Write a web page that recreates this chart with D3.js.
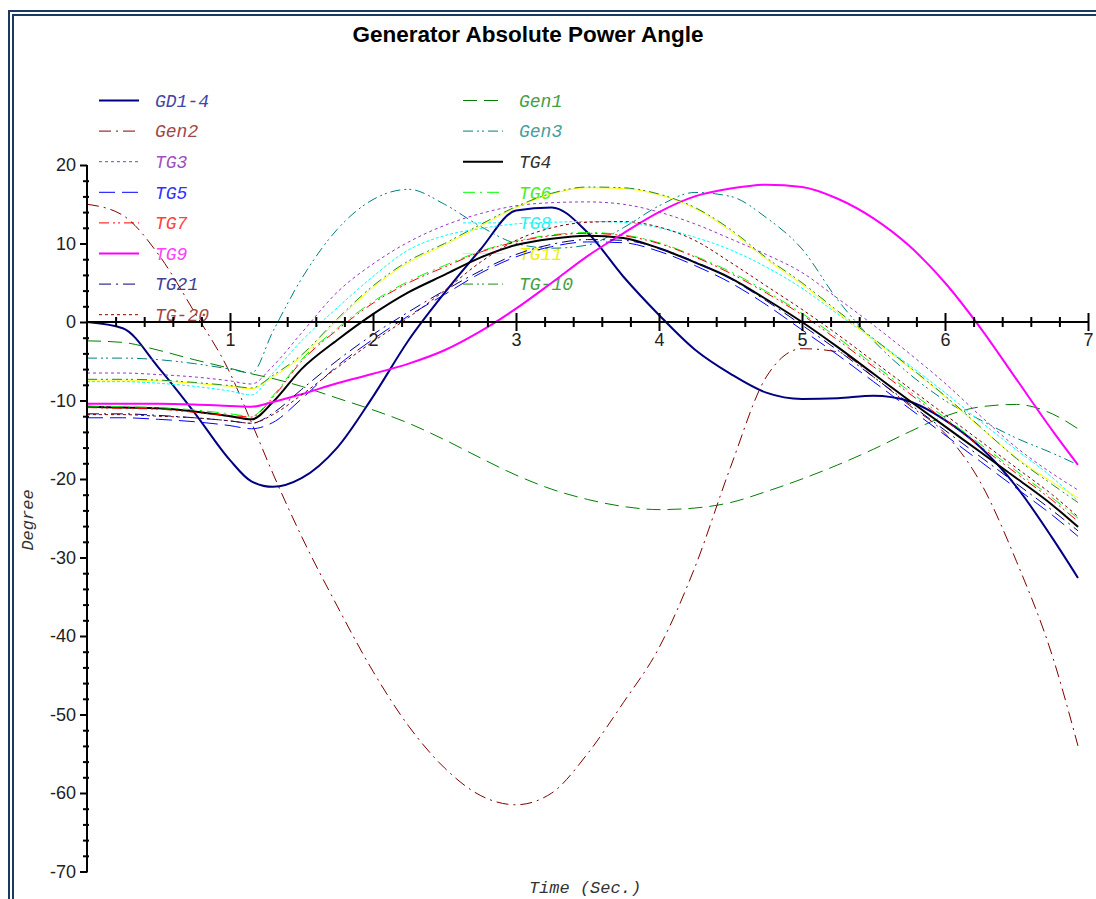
<!DOCTYPE html>
<html>
<head>
<meta charset="utf-8">
<script src="https://cdn.jsdelivr.net/npm/d3@7"></script>
<style>
  body { margin: 0; background: #fff; }
  svg { display: block; }
</style>
</head>
<body>
<svg id="chart" width="1096" height="899"></svg>
<script>
// sample times (sec.)
var times = [0, 0.25, 0.5, 0.75, 1.0, 1.15, 1.3, 1.5, 1.75, 2.0, 2.25, 2.5, 2.75, 3.0, 3.25, 3.5, 3.75, 4.0, 4.25, 4.5, 4.75, 5.0, 5.25, 5.5, 5.75, 6.0, 6.25, 6.5, 6.75, 6.93];

// angles (degree)
var gd14  = [0, -0.8, -5.8, -11.5, -17.6, -20.3, -21.0, -19.9, -16.0, -9.5, -2.3, 3.7, 9.2, 14.2, 14.6, 11.4, 5.8, 0.9, -3.5, -6.6, -9.0, -9.8, -9.7, -9.4, -10.1, -12.5, -16.0, -21.0, -27.5, -32.6];
var gen1  = [-2.4, -2.6, -3.6, -4.8, -5.9, -6.6, -7.2, -8.2, -9.7, -11.2, -12.9, -15.0, -17.3, -19.5, -21.3, -22.6, -23.5, -23.9, -23.7, -23.0, -21.6, -20.0, -18.2, -16.2, -14.0, -12.0, -10.8, -10.5, -11.7, -13.6];
var gen2  = [15.0, 13.6, 8.6, 1.3, -6.5, -12.8, -19.3, -27.3, -36.2, -44.5, -51.5, -56.8, -60.3, -61.5, -60.0, -55.0, -48.5, -41.5, -31.3, -18.5, -7.0, -3.4, -3.8, -7.0, -10.6, -14.2, -20.5, -30.5, -42.5, -54.0];
var gen3  = [-4.6, -4.6, -4.8, -5.3, -6.0, -6.5, -1.2, 5.5, 11.8, 15.6, 16.9, 15.0, 12.2, 10.0, 9.4, 9.8, 12.0, 14.8, 16.5, 16.0, 13.3, 9.3, 2.8, -2.4, -6.6, -10.0, -12.5, -14.8, -16.7, -18.2];
var tg3   = [-6.5, -6.5, -6.7, -7.0, -7.5, -7.9, -5.6, -1.4, 3.8, 7.4, 10.2, 12.3, 13.8, 14.8, 15.2, 15.3, 15.0, 14.0, 12.5, 10.6, 8.6, 6.3, 3.0, -0.4, -4.0, -7.8, -12.0, -16.0, -19.3, -21.4];
var tg4   = [-10.8, -10.9, -11.0, -11.4, -12.0, -12.4, -10.2, -6.0, -2.3, 1.0, 3.8, 6.0, 8.2, 9.8, 10.6, 11.0, 10.7, 9.4, 7.6, 5.6, 2.9, 0.0, -3.2, -6.6, -10.0, -13.3, -16.6, -19.9, -23.3, -26.1];
var tg5   = [-12.2, -12.2, -12.4, -12.7, -13.2, -13.6, -12.8, -9.8, -5.6, -2.2, 0.8, 3.5, 6.2, 8.3, 9.6, 10.2, 10.1, 9.0, 7.2, 5.0, 2.2, -1.0, -4.2, -7.6, -11.0, -14.4, -17.8, -21.2, -24.6, -27.3];
var tg6   = [-10.7, -10.8, -10.9, -11.2, -11.7, -12.0, -9.4, -4.8, -0.8, 2.6, 5.2, 7.2, 9.0, 10.3, 11.1, 11.4, 11.1, 10.1, 8.4, 6.4, 3.9, 1.1, -2.0, -5.4, -8.8, -12.2, -15.6, -19.0, -22.4, -25.0];
var tg7   = [-10.9, -11.0, -11.1, -11.5, -11.9, -12.1, -9.6, -5.0, -1.0, 2.4, 5.0, 7.0, 8.9, 10.2, 11.0, 11.3, 11.0, 10.0, 8.3, 6.2, 3.7, 0.9, -2.3, -5.7, -9.1, -12.5, -15.9, -19.3, -22.7, -25.4];
var tg8   = [-7.6, -7.6, -7.8, -8.2, -8.8, -9.3, -6.5, -2.4, 1.8, 5.8, 9.2, 11.0, 11.9, 12.5, 12.7, 12.8, 12.7, 12.0, 10.8, 9.2, 7.0, 4.3, 1.0, -2.2, -5.5, -9.0, -12.7, -16.3, -19.8, -22.8];
var tg9   = [-10.4, -10.4, -10.4, -10.5, -10.7, -10.8, -10.2, -9.2, -7.8, -6.6, -5.3, -3.6, -1.2, 1.7, 5.0, 8.4, 11.3, 14.0, 16.0, 17.0, 17.5, 17.2, 15.7, 13.2, 9.7, 5.0, -0.8, -7.3, -13.8, -18.2];
var tg11  = [-7.4, -7.4, -7.5, -7.8, -8.2, -8.5, -7.0, -4.4, 0.2, 4.4, 7.6, 9.8, 12.2, 14.6, 16.3, 17.1, 17.0, 16.2, 14.5, 11.6, 8.0, 4.8, 1.2, -2.3, -5.8, -9.5, -13.5, -17.3, -20.4, -22.4];
var tg21  = [-11.7, -11.7, -11.9, -12.2, -12.6, -12.9, -11.6, -8.6, -4.9, -1.6, 1.3, 4.0, 6.5, 8.6, 9.9, 10.5, 10.4, 9.4, 7.7, 5.5, 2.7, -0.4, -3.6, -7.0, -10.4, -13.8, -17.2, -20.6, -24.0, -26.6];
var tgm10 = [-7.3, -7.3, -7.4, -7.7, -8.1, -8.4, -6.8, -4.2, 0.4, 4.6, 7.8, 10.0, 12.4, 14.7, 16.4, 17.2, 17.1, 16.3, 14.6, 11.8, 8.2, 5.0, 1.4, -2.1, -5.7, -9.4, -13.4, -17.4, -20.7, -23.0];
var tgm20 = [-11.8, -11.8, -12.0, -12.2, -12.6, -12.9, -11.8, -9.3, -5.8, -2.5, 0.6, 4.0, 7.6, 10.4, 12.0, 12.7, 12.8, 12.1, 10.4, 7.6, 4.6, 1.6, -1.6, -5.0, -8.4, -11.8, -15.2, -18.6, -22.0, -24.8];

var xTicks = [1, 2, 3, 4, 5, 6, 7];
var yTicks = [20, 10, 0, -10, -20, -30, -40, -50, -60, -70];

// legend is filled row by row, two columns
var series = [
  {name: "GD1-4", v: gd14,  color: "#000080", text: "#4444aa", w: 2,   dash: null},
  {name: "Gen1",  v: gen1,  color: "#008000", text: "#44a044", w: 1,   dash: "14,7"},
  {name: "Gen2",  v: gen2,  color: "#800000", text: "#a04848", w: 1,   dash: "12,5,2,5"},
  {name: "Gen3",  v: gen3,  color: "#008080", text: "#44a0a0", w: 1,   dash: "10,4,2,3,2,4"},
  {name: "TG3",   v: tg3,   color: "#9933cc", text: "#a050c0", w: 1,   dash: "3,3"},
  {name: "TG4",   v: tg4,   color: "#000000", text: "#303030", w: 2,   dash: null},
  {name: "TG5",   v: tg5,   color: "#0000ff", text: "#3030ff", w: 1,   dash: "16,7"},
  {name: "TG6",   v: tg6,   color: "#00ff00", text: "#44ee22", w: 1,   dash: "12,5,2,5"},
  {name: "TG7",   v: tg7,   color: "#ff0000", text: "#ff4040", w: 1,   dash: "10,4,2,3,2,4"},
  {name: "TG8",   v: tg8,   color: "#00ffff", text: "#30f0f0", w: 1,   dash: "3,2"},
  {name: "TG9",   v: tg9,   color: "#ff00ff", text: "#ff40ff", w: 2,   dash: null},
  {name: "TG11",  v: tg11,  color: "#ffff00", text: "#f0f000", w: 1,   dash: null},
  {name: "TG21",  v: tg21,  color: "#000080", text: "#404098", w: 1,   dash: "12,5,2,5"},
  {name: "TG-10", v: tgm10, color: "#228b22", text: "#44a044", w: 1,   dash: "10,4,2,3,2,4"},
  {name: "TG-20", v: tgm20, color: "#800000", text: "#a04848", w: 1,   dash: "3,3"}
];

var svg = d3.select("#chart");

// double frame
svg.append("rect").attr("x", 9).attr("y", 11).attr("width", 1200).attr("height", 1000)
  .attr("fill", "none").attr("stroke", "#1b3a62").attr("stroke-width", 2);
svg.append("rect").attr("x", 13).attr("y", 15).attr("width", 1200).attr("height", 1000)
  .attr("fill", "none").attr("stroke", "#1b3a62").attr("stroke-width", 2);

svg.append("text").attr("x", 528).attr("y", 42).attr("text-anchor", "middle")
  .attr("font-family", "Liberation Sans, Arial, sans-serif").attr("font-weight", "bold")
  .attr("font-size", 22.5).attr("fill", "#000").text("Generator Absolute Power Angle");

var x = d3.scaleLinear().domain([0, 7]).range([87, 1088]);
var y = d3.scaleLinear().domain([-70, 20]).range([871.5, 165]);

// legend
var leg = svg.append("g").selectAll("g").data(series).enter().append("g")
  .attr("transform", function(d, i) {
    return "translate(" + (i % 2 ? 463 : 99) + "," + (100.5 + Math.floor(i / 2) * 30.6) + ")";
  });
leg.append("line").attr("x1", 0).attr("x2", 40).attr("y1", 0).attr("y2", 0)
  .attr("stroke", function(d) { return d.color; })
  .attr("stroke-width", function(d) { return d.w; })
  .attr("stroke-dasharray", function(d) { return d.dash; });
leg.append("text").attr("x", 56).attr("y", 0).attr("dy", "0.35em")
  .attr("font-family", "Liberation Mono, Courier New, monospace").attr("font-style", "italic")
  .attr("font-size", 18).attr("fill", function(d) { return d.text; })
  .text(function(d) { return d.name; });

// curves
var line = d3.line()
  .x(function(d, i) { return x(times[i]); })
  .y(function(d) { return y(d); })
  .curve(d3.curveMonotoneX);

svg.append("g").selectAll("path").data(series).enter().append("path")
  .attr("d", function(d) { return line(d.v); })
  .attr("fill", "none")
  .attr("stroke", function(d) { return d.color; })
  .attr("stroke-width", function(d) { return d.w; })
  .attr("stroke-dasharray", function(d) { return d.dash; });

var plain = function(d) { return String(d); };

// x axis through zero
var xMinor = d3.range(1, 35).map(function(k) { return k / 5; }).filter(function(t) { return Math.round(t * 5) % 5 != 0; });
var gx = svg.append("g").attr("transform", "translate(0," + y(0) + ")");
gx.append("g").call(d3.axisBottom(x).tickValues(xMinor).tickSize(5).tickFormat(""));
var gxMaj = gx.append("g").call(d3.axisBottom(x).tickValues(xTicks).tickSize(9).tickFormat(plain));
gx.selectAll(".domain").remove();
gx.append("line").attr("x1", x(0)).attr("x2", x(7) + 1).attr("stroke", "#000").attr("stroke-width", 2);
gx.selectAll(".tick line").attr("y1", function() { return -(+d3.select(this).attr("y2")); })
  .attr("stroke-width", 2);
gxMaj.selectAll("text").attr("y", 11).attr("dy", "0.71em");

// y axis
var yMinor = d3.range(-70, 21, 2).filter(function(v) { return v % 10 != 0; });
var gy = svg.append("g").attr("transform", "translate(" + x(0) + ",0)");
gy.append("g").call(d3.axisLeft(y).tickValues(yMinor).tickSize(4).tickFormat(""))
  .selectAll(".tick line").attr("x1", 2);
gy.append("g").call(d3.axisLeft(y).tickValues(yTicks).tickSize(7).tickPadding(4).tickFormat(plain));
gy.selectAll(".domain").remove();
gy.append("line").attr("y1", y(20)).attr("y2", y(-70) + 1).attr("stroke", "#000").attr("stroke-width", 2);
gy.selectAll(".tick line").attr("stroke-width", 2);

svg.selectAll(".tick text").attr("font-family", "Liberation Sans, Arial, sans-serif")
  .attr("font-size", 18).attr("fill", "#222");

// axis titles
svg.append("text").attr("x", 585).attr("y", 887).attr("dy", "0.35em").attr("text-anchor", "middle")
  .attr("font-family", "Liberation Mono, Courier New, monospace").attr("font-style", "italic")
  .attr("font-size", 17).attr("fill", "#333").text("Time (Sec.)");
svg.append("text").attr("transform", "translate(27,520) rotate(-90)").attr("dy", "0.35em")
  .attr("text-anchor", "middle")
  .attr("font-family", "Liberation Mono, Courier New, monospace").attr("font-style", "italic")
  .attr("font-size", 17).attr("fill", "#333").text("Degree");
</script>
</body>
</html>
